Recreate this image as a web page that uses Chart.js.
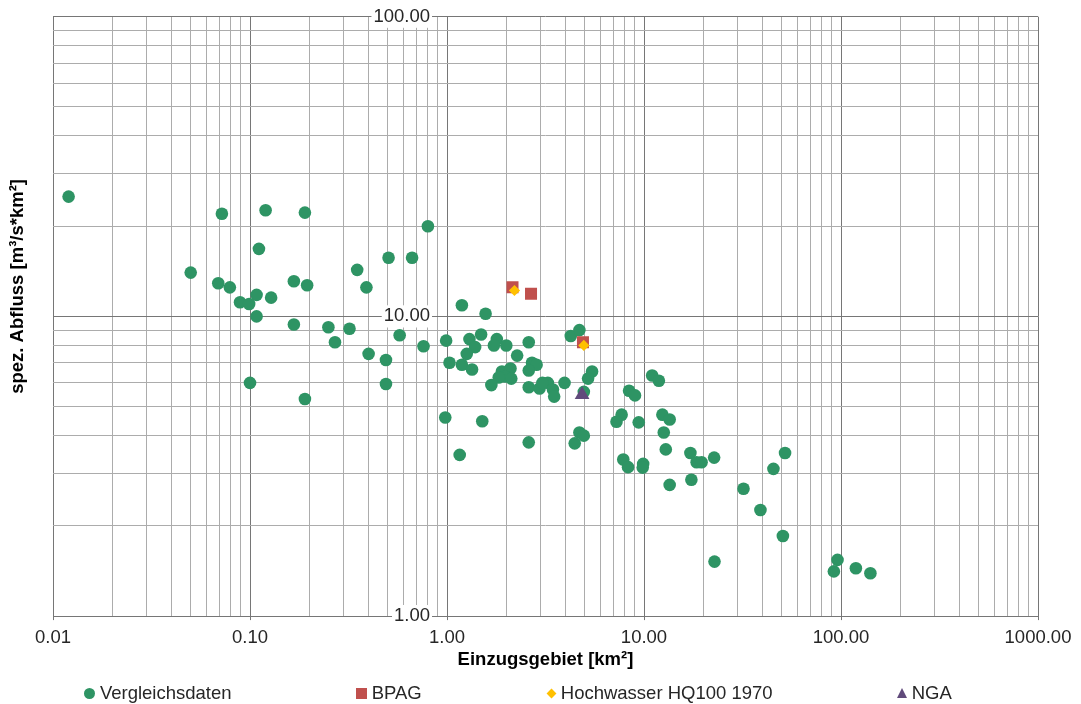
<!DOCTYPE html>
<html>
<head>
<meta charset="utf-8">
<script src="https://cdn.jsdelivr.net/npm/chart.js@4"></script>
<style>
  html, body { margin: 0; padding: 0; background: #fff; }
  #wrap { position: relative; width: 1081px; height: 704px; }
  #legend {
    position: absolute; left: 0; top: 682px;
    display: flex; align-items: center;
    font: 18.5px "Liberation Sans", Arial, sans-serif; color: #262626;
    line-height: 22px; white-space: nowrap;
  }
  #legend .item { display: flex; align-items: center; margin-right: 124.6px; }
  #legend .item:first-child { margin-left: 84.4px; }
  #legend .mk { margin-right: 4.5px; flex: none; }
</style>
</head>
<body>
<div id="wrap">
  <canvas id="chart"></canvas>
  <div id="legend"></div>
</div>
<script>
// axis decades and their printed labels
const xDecades = [0.01, 0.1, 1, 10, 100, 1000];
const xTickLabels = ['0.01', '0.10', '1.00', '10.00', '100.00', '1000.00'];
const yDecades = [1, 10, 100];
const yTickLabels = ['1.00', '10.00', '100.00'];

// Vergleichsdaten: Einzugsgebiet [km²] / spez. Abfluss [m³/s*km²]
const vergleichArea = [
  0.012, 0.072, 0.12, 0.19, 0.8, 0.111, 0.05, 0.35, 0.505, 0.665,
  0.069, 0.079, 0.167, 0.195, 0.39, 0.108, 0.128, 0.089, 0.099, 0.108,
  0.167, 0.25, 0.32, 0.27, 0.575, 0.76, 0.4, 0.49, 0.49, 0.1,
  0.19, 1.19, 1.57, 0.99, 1.03, 1.3, 1.49, 1.39, 1.79, 1.73,
  2.0, 2.6, 1.26, 1.19, 1.34, 2.27, 2.7, 2.85, 2.6, 1.9,
  2.1, 1.97, 2.12, 1.83, 1.68, 2.6, 2.95, 3.25, 3.05, 3.45,
  3.5, 3.95, 4.25, 4.7, 5.45, 5.2, 4.95, 0.98, 1.51, 1.16,
  2.6, 4.7, 4.95, 4.45, 11.0, 11.9, 8.4, 9.0, 7.7, 7.25,
  9.4, 12.4, 13.5, 12.6, 12.9, 7.85, 8.3, 9.9, 9.85, 17.2,
  18.5, 19.6, 22.7, 17.4, 13.5, 32, 39, 45.4, 52, 50.7,
  22.8, 96, 92, 119, 141
];
const vergleichAbfluss = [
  25.1, 22.0, 22.6, 22.2, 20.0, 16.8, 14.0, 14.3, 15.7, 15.7,
  12.9, 12.5, 13.1, 12.7, 12.5, 11.8, 11.55, 11.15, 11.0, 10.0,
  9.4, 9.2, 9.1, 8.2, 8.65, 7.95, 7.5, 7.15, 5.95, 6.0,
  5.3, 10.9, 10.2, 8.3, 7.0, 8.4, 8.7, 7.9, 8.4, 8.0,
  8.0, 8.2, 7.5, 6.9, 6.65, 7.4, 7.0, 6.9, 6.6, 6.55,
  6.7, 6.3, 6.2, 6.25, 5.9, 5.8, 5.75, 6.0, 6.0, 5.7,
  5.4, 6.0, 8.6, 9.0, 6.55, 6.2, 5.6, 4.6, 4.47, 3.45,
  3.8, 4.1, 4.0, 3.77, 6.35, 6.1, 5.65, 5.45, 4.7, 4.45,
  4.43, 4.7, 4.53, 4.1, 3.6, 3.33, 3.14, 3.22, 3.13, 3.5,
  3.26, 3.26, 3.38, 2.85, 2.74, 2.66, 2.26, 3.1, 3.5, 1.85,
  1.52, 1.54, 1.41, 1.445, 1.39
];

const bpagArea = [2.15, 2.67, 4.9];
const bpagAbfluss = [12.5, 11.9, 8.2];

const hq100Area = [2.2, 4.95];
const hq100Abfluss = [12.2, 8.0];

const ngaArea = [4.85];
const ngaAbfluss = [5.48];

// styling
const green = '#2e9464';
const red = '#c0504d';
const gold = '#ffc000';
const purple = '#604a7b';
const majorGrid = '#767676';
const minorGrid = '#acacac';
const textColor = '#262626';
const fontFamily = "'Liberation Sans', Arial, sans-serif";
const tickFont = { family: fontFamily, size: 18.5 };
const titleFont = { family: fontFamily, size: 18.5, weight: 'bold' };
const yLabelAnchor = 0.82; // y labels sit just left of the 1.00 line

function toPoints(xs, ys) {
  return xs.map((x, i) => ({ x: x, y: ys[i] }));
}

function isDecade(v) {
  const l = Math.log10(v);
  return Math.abs(l - Math.round(l)) < 1e-9;
}

function makeTicks(decades) {
  const ticks = [];
  for (let i = 0; i < decades.length - 1; i++) {
    for (let k = 1; k <= 9; k++) {
      const v = parseFloat((decades[i] * k).toPrecision(6));
      ticks.push({ value: v, major: k === 1 });
    }
  }
  ticks.push({ value: decades[decades.length - 1], major: true });
  return ticks;
}

function labelFor(v, decades, labels) {
  if (!isDecade(v)) return '';
  const i = decades.findIndex(d => Math.abs(Math.log10(d) - Math.log10(v)) < 1e-9);
  return i >= 0 ? labels[i] : '';
}

const isMajor = c => !!(c.tick && c.tick.major);
const gridColor = c => isMajor(c) ? majorGrid : minorGrid;

const htmlLegend = {
  id: 'htmlLegend',
  afterUpdate(chart) {
    const box = document.getElementById('legend');
    box.innerHTML = '';
    chart.data.datasets.forEach(ds => {
      const item = document.createElement('div');
      item.className = 'item';
      const mk = document.createElement('span');
      mk.className = 'mk';
      const c = ds.backgroundColor;
      if (ds.pointStyle === 'circle') {
        mk.style.cssText = `width:11px;height:11px;border-radius:50%;background:${c}`;
      } else if (ds.pointStyle === 'rect') {
        mk.style.cssText = `width:11px;height:11px;background:${c}`;
      } else if (ds.pointStyle === 'rectRot') {
        mk.style.cssText = `width:7px;height:7px;background:${c};transform:rotate(45deg);margin-left:1.5px;margin-right:6px`;
      } else {
        mk.style.cssText = `width:0;height:0;border-left:5.5px solid transparent;border-right:5.5px solid transparent;border-bottom:10px solid ${c}`;
      }
      const txt = document.createElement('span');
      txt.textContent = ds.label;
      item.appendChild(mk);
      item.appendChild(txt);
      box.appendChild(item);
    });
  }
};

new Chart(document.getElementById('chart'), {
  type: 'scatter',
  data: {
    datasets: [
      {
        label: 'Vergleichsdaten',
        data: toPoints(vergleichArea, vergleichAbfluss),
        pointStyle: 'circle', pointRadius: 6.3, pointBorderWidth: 0,
        backgroundColor: green, borderColor: green,
        yAxisID: 'y', order: 4
      },
      {
        label: 'BPAG',
        data: toPoints(bpagArea, bpagAbfluss),
        pointStyle: 'rect', pointRadius: 8.5, pointBorderWidth: 0,
        backgroundColor: red, borderColor: red,
        yAxisID: 'y', order: 3
      },
      {
        label: 'Hochwasser HQ100 1970',
        data: toPoints(hq100Area, hq100Abfluss),
        pointStyle: 'rectRot', pointRadius: 5.6, pointBorderWidth: 0,
        backgroundColor: gold, borderColor: gold,
        yAxisID: 'y', order: 2
      },
      {
        label: 'NGA',
        data: toPoints(ngaArea, ngaAbfluss),
        pointStyle: 'triangle', pointRadius: 8.5, pointBorderWidth: 0,
        backgroundColor: purple, borderColor: purple,
        yAxisID: 'y', order: 1
      }
    ]
  },
  options: {
    responsive: true,
    maintainAspectRatio: false,
    animation: false,
    events: [],
    layout: { padding: { left: 4, right: 43, top: 16.7, bottom: 29 } },
    plugins: {
      legend: { display: false },
      tooltip: { enabled: false }
    },
    scales: {
      x: {
        type: 'logarithmic', min: 0.01, max: 1000, position: 'bottom',
        afterBuildTicks: s => { s.ticks = makeTicks(xDecades); },
        border: { color: majorGrid, width: 1 },
        grid: {
          color: gridColor, tickLength: 4,
          tickColor: c => isMajor(c) ? majorGrid : 'rgba(0,0,0,0)'
        },
        ticks: {
          autoSkip: false, maxRotation: 0, padding: 7,
          font: tickFont, color: textColor,
          callback: v => labelFor(v, xDecades, xTickLabels)
        },
        title: {
          display: true, text: 'Einzugsgebiet [km²]',
          font: titleFont, color: '#000', padding: { top: -7.5, bottom: 4 }
        }
      },
      y: {
        type: 'logarithmic', min: 1, max: 100,
        position: { x: yLabelAnchor },
        afterBuildTicks: s => { s.ticks = makeTicks(yDecades); },
        border: { display: false },
        grid: { color: gridColor, drawTicks: false },
        ticks: {
          autoSkip: false, font: tickFont, color: textColor,
          showLabelBackdrop: true,
          backdropColor: c => isMajor(c) ? '#fff' : 'rgba(0,0,0,0)',
          backdropPadding: { x: 2, y: 0 },
          callback: v => labelFor(v, yDecades, yTickLabels)
        }
      },
      yTitle: {
        type: 'linear', min: 0, max: 1, position: 'left',
        stack: 'left', stackWeight: 9, weight: 2,
        grid: { display: false, drawTicks: false },
        border: { display: false },
        ticks: { display: false },
        title: {
          display: true, text: 'spez. Abfluss [m³/s*km²]',
          font: titleFont, color: '#000', padding: { top: 3, bottom: 23.8 }
        }
      },
      yPad: {
        type: 'linear', min: 0, max: 1, position: 'left',
        stack: 'left', stackWeight: 1, weight: 1,
        grid: { display: false, drawTicks: false },
        border: { display: false },
        ticks: { display: false }
      }
    }
  },
  plugins: [htmlLegend]
});
</script>
</body>
</html>
